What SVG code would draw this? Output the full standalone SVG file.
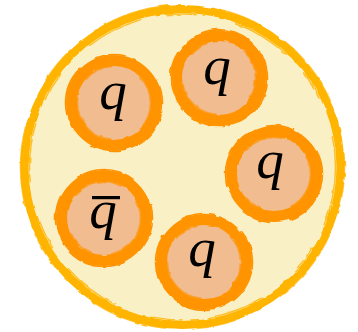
<svg xmlns="http://www.w3.org/2000/svg" width="358" height="332" viewBox="0 0 358 332">
  <defs>
    <filter id="rough" x="-10%" y="-10%" width="120%" height="120%">
      <feTurbulence type="fractalNoise" baseFrequency="0.09" numOctaves="2" seed="3" result="n"/>
      <feDisplacementMap in="SourceGraphic" in2="n" scale="3" xChannelSelector="R" yChannelSelector="G"/>
    </filter>
  </defs>
  <style>
    .hadron-fill { fill: #F9F0C6; }
    .hadron-ring { fill: none; stroke: #FFB400; }
    .q-fill { fill: #F1BC8F; }
    .q-ring { fill: none; stroke: #FF9400; stroke-width: 11; }
    .q-streak { fill: none; stroke: #FF9400; stroke-width: 1.6; }
    .label { font-family: "Liberation Serif", "Times New Roman", serif; font-style: italic; font-size: 55px; fill: #000; text-anchor: middle; }
  </style>

  <g id="hadron">
    <circle class="hadron-fill" cx="182.5" cy="167" r="157"/>
    <g filter="url(#rough)">
      <circle class="hadron-ring" cx="182.5" cy="167" r="158" stroke-width="8"/>
      <circle class="hadron-ring" cx="182.5" cy="167" r="153" stroke-width="1.5" stroke-dasharray="60 25 30 40" opacity="0.8"/>
      <circle class="hadron-ring" cx="182.5" cy="167" r="162" stroke-width="1.5" stroke-dasharray="40 30 80 50" opacity="0.8"/>
    </g>
  </g>

  <g id="quark-1">
    <circle class="q-fill" cx="114" cy="103" r="38"/>
    <g filter="url(#rough)">
      <circle class="q-ring" cx="114" cy="103" r="42.5"/>
      <circle class="q-streak" cx="114" cy="103" r="48.5" stroke-dasharray="50 20 30 40"/>
      <circle class="q-streak" cx="114" cy="103" r="36.5" stroke-dasharray="30 30 60 20" opacity="0.7"/>
    </g>
    <text class="label" x="113" y="109">q</text>
  </g>

  <g id="quark-2">
    <circle class="q-fill" cx="219" cy="78" r="38"/>
    <g filter="url(#rough)">
      <circle class="q-ring" cx="219" cy="78" r="42.5"/>
      <circle class="q-streak" cx="219" cy="78" r="48.5" stroke-dasharray="40 30 50 20"/>
      <circle class="q-streak" cx="219" cy="78" r="36.5" stroke-dasharray="20 40 50 30" opacity="0.7"/>
    </g>
    <text class="label" x="217" y="84">q</text>
  </g>

  <g id="quark-3">
    <circle class="q-fill" cx="274" cy="174" r="38"/>
    <g filter="url(#rough)">
      <circle class="q-ring" cx="274" cy="174" r="42.5"/>
      <circle class="q-streak" cx="274" cy="174" r="48.5" stroke-dasharray="60 20 30 30"/>
      <circle class="q-streak" cx="274" cy="174" r="36.5" stroke-dasharray="40 30 20 50" opacity="0.7"/>
    </g>
    <text class="label" x="270" y="178">q</text>
  </g>

  <g id="antiquark">
    <circle class="q-fill" cx="104" cy="218" r="38"/>
    <g filter="url(#rough)">
      <circle class="q-ring" cx="104" cy="218" r="42.5"/>
      <circle class="q-streak" cx="104" cy="218" r="48.5" stroke-dasharray="30 25 60 30"/>
      <circle class="q-streak" cx="104" cy="218" r="36.5" stroke-dasharray="50 20 30 40" opacity="0.7"/>
    </g>
    <text class="label" x="103" y="228">q</text>
    <rect x="92" y="196" width="28" height="3.2" fill="#000"/>
  </g>

  <g id="quark-5">
    <circle class="q-fill" cx="204" cy="262" r="38"/>
    <g filter="url(#rough)">
      <circle class="q-ring" cx="204" cy="262" r="42.5"/>
      <circle class="q-streak" cx="204" cy="262" r="48.5" stroke-dasharray="45 25 35 30"/>
      <circle class="q-streak" cx="204" cy="262" r="36.5" stroke-dasharray="25 35 55 25" opacity="0.7"/>
    </g>
    <text class="label" x="202" y="266">q</text>
  </g>
</svg>
